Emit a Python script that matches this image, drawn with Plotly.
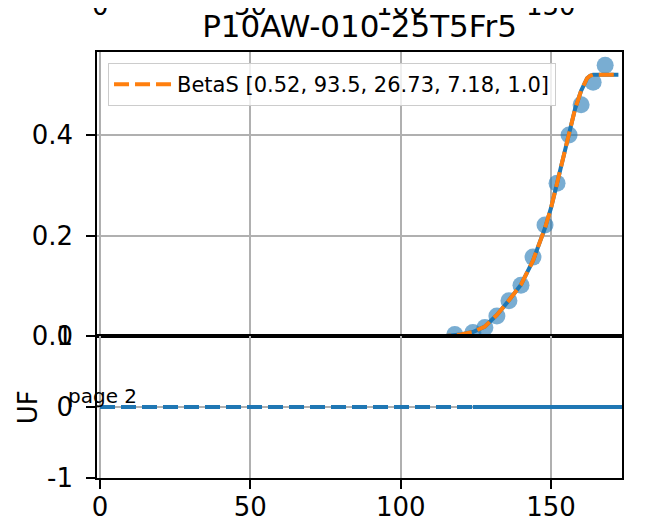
import plotly.graph_objects as go

# measured points (blue circles)
pts_x = [118, 124, 128, 132, 136, 140, 144, 148, 152, 156, 160, 164, 168]
pts_y = [0.003, 0.007, 0.017, 0.040, 0.070, 0.101, 0.157, 0.221, 0.304, 0.400, 0.460, 0.505, 0.539]

# fitted BetaS curve
fit_x = [0, 110, 115, 120, 124, 128, 132, 136, 140, 144, 148, 150, 152, 154, 156, 158, 160, 161, 162, 163, 164, 172.4]
fit_y = [0, 0, 0.0, 0.003, 0.008, 0.019, 0.042, 0.071, 0.102, 0.150, 0.215, 0.255, 0.305, 0.358, 0.405, 0.452, 0.488, 0.503, 0.513, 0.518, 0.52, 0.52]

# UF panel
uf_dash_x = [0, 172.4]
uf_dash_y = [0, 0]
uf_solid_x = [124, 174]
uf_solid_y = [0, 0]

top_ticks = [0, 50, 100, 150]
uf_ticks = [-1, 0, 1]
uf_labels = ['-1', '0', '1']

font = 'DejaVu Sans'
blue = '#1f77b4'
orange = '#ff7f0e'
grid = '#b0b0b0'

fig = go.Figure()

fig.add_trace(go.Scatter(
    x=pts_x, y=pts_y, mode='markers', showlegend=False,
    marker=dict(size=17, color='rgba(31,119,180,0.6)', line=dict(width=0)),
    xaxis='x', yaxis='y'))
fig.add_trace(go.Scatter(
    x=fit_x, y=fit_y, mode='lines', showlegend=False,
    line=dict(color=blue, width=4), xaxis='x', yaxis='y'))
fig.add_trace(go.Scatter(
    x=fit_x, y=fit_y, mode='lines', name='BetaS [0.52, 93.5, 26.73, 7.18, 1.0]',
    line=dict(color=orange, width=4, dash='15px,6px'), xaxis='x', yaxis='y'))

fig.add_trace(go.Scatter(
    x=uf_dash_x, y=uf_dash_y, mode='lines', showlegend=False,
    line=dict(color=blue, width=4, dash='15px,6px'), xaxis='x2', yaxis='y2'))
fig.add_trace(go.Scatter(
    x=uf_solid_x, y=uf_solid_y, mode='lines', showlegend=False,
    line=dict(color=blue, width=4), xaxis='x2', yaxis='y2'))

axis_common = dict(showline=True, mirror=True, linecolor='black', linewidth=1.5,
                   showgrid=True, gridcolor=grid, gridwidth=2, zeroline=False,
                   tickfont=dict(family=font, size=26, color='black'),
                   ticks='outside', ticklen=9, tickwidth=2, tickcolor='black',
                   ticklabelstandoff=8, automargin=False)

annotations = []
# clipped tick labels of the panel above
for t in top_ticks:
    annotations.append(dict(x=t, y=1.107, xref='x', yref='paper', text=str(t),
                            showarrow=False, xanchor='center', yanchor='middle',
                            font=dict(family=font, size=26, color='black')))
annotations.append(dict(x=-0.059, y=0.193, xref='paper', yref='paper', text='page 2',
                        showarrow=False, xanchor='left', yanchor='middle',
                        font=dict(family=font, size=20, color='black')))
annotations.append(dict(x=-0.131, y=0.1667, xref='paper', yref='paper', text='UF',
                        textangle=-90, showarrow=False, xanchor='center', yanchor='middle',
                        font=dict(family=font, size=26, color='black')))

# the page adds an 8px body margin, so margins are trimmed by 8px
fig.update_layout(
    template='none',
    width=671, height=522,
    margin=dict(l=89, r=57, t=44, b=52),
    plot_bgcolor='white', paper_bgcolor='white',
    font=dict(family=font, color='black'),
    title=dict(text='P10AW-010-25T5Fr5', x=0.5, xref='paper', y=0.966, yanchor='middle',
               font=dict(family=font, size=31, color='black')),
    xaxis=dict(axis_common, domain=[0, 1], anchor='y', range=[-1, 173.6],
               tickvals=[0, 50, 100, 150], showticklabels=False, ticks=''),
    yaxis=dict(axis_common, domain=[0.3333, 1], anchor='x', range=[0, 0.5652],
               tickvals=[0, 0.2, 0.4], tickformat='.1f'),
    xaxis2=dict(axis_common, domain=[0, 1], anchor='y2', range=[-1, 173.6],
                tickvals=[0, 50, 100, 150], matches='x', ticklabelstandoff=-4),
    yaxis2=dict(axis_common, domain=[0, 0.3333], anchor='x2', range=[-1, 1],
                tickvals=uf_ticks, ticktext=uf_labels),
    legend=dict(x=0.021, y=0.974, xanchor='left', yanchor='top', itemwidth=58,
                bgcolor='rgba(255,255,255,0.8)', bordercolor='#cccccc', borderwidth=1,
                font=dict(family=font, size=21, color='black')),
    annotations=annotations,
)

fig.write_html('out.html')
